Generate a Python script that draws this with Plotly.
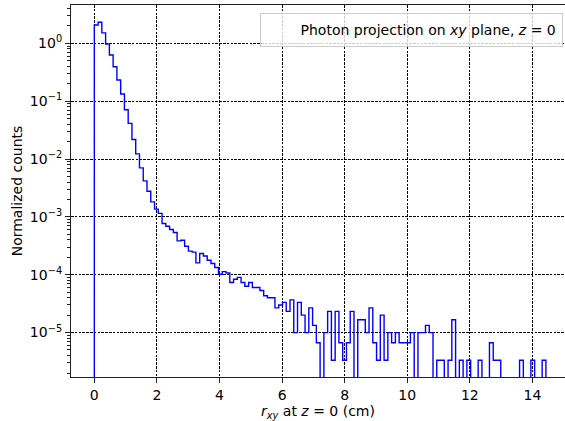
import numpy as np
import plotly.graph_objects as go

# ---- data (normalized counts per bin) ----
r_min = 0.0
r_max = 14.43
n_bins = 120

density = [
    2.07, 2.31, 1.52, 0.97, 0.63, 0.394, 0.232, 0.133, 0.071, 0.0413,
    0.0218, 0.0123, 0.00704, 0.0042, 0.00278, 0.00182, 0.00136, 0.00115, 0.00077, 0.00069,
    0.000605, 0.000537, 0.000385, 0.000395, 0.000311, 0.000256, 0.000246, 0.00016, 0.000233, 0.000211,
    0.000178, 0.000156, 0.000133, 0.000102, 1.13e-4, 1.07e-4, 7.33e-5, 8.33e-5, 9.0e-5, 7.33e-5,
    6.33e-5, 7.33e-5, 6.0e-5, 6.0e-5, 5.33e-5, 4.33e-5, 4.0e-5, 4.0e-5, 2.67e-5, 3.0e-5,
    3.33e-5, 2.33e-5, 3.67e-5, 1.0e-5, 3.33e-5, 2.0e-5, 1.0e-5, 2.67e-5, 1.33e-5, 6.67e-6,
    0, 1.0e-5, 2.33e-5, 3.33e-6, 2.33e-5, 6.67e-6, 3.33e-6, 6.67e-6, 2.33e-5, 0,
    1.67e-5, 1.67e-5, 1.0e-5, 2.67e-5, 6.67e-6, 3.33e-6, 2.0e-5, 3.33e-6, 1.0e-5, 6.67e-6,
    1.0e-5, 6.67e-6, 6.67e-6, 6.67e-6, 1.0e-5, 0, 1.0e-5, 1.0e-5, 1.33e-5, 1.0e-5,
    0, 3.33e-6, 3.33e-6, 0, 3.33e-6, 1.67e-5, 0, 3.33e-6, 0, 3.33e-6,
    0, 0, 3.33e-6, 0, 0, 6.67e-6, 3.33e-6, 3.33e-6, 0, 0,
    0, 0, 0, 3.33e-6, 0, 0, 3.33e-6, 0, 0, 3.33e-6,
]

x_tick_vals = [0, 2, 4, 6, 8, 10, 12, 14]
y_tick_vals = [1e-5, 1e-4, 1e-3, 1e-2, 1e-1, 1e0]
y_tick_text = ["10<sup>\u22125</sup>", "10<sup>\u22124</sup>", "10<sup>\u22123</sup>",
               "10<sup>\u22122</sup>", "10<sup>\u22121</sup>", "10<sup>0</sup>"]
legend_label = "Photon projection on <i>xy</i> plane, <i>z</i> = 0"
x_title = "<i>r</i><sub><i>xy</i></sub> at <i>z</i> = 0 (cm)"
y_title = "Normalized counts"

# ---- build step outline (like matplotlib histtype='step') ----
edges = np.linspace(r_min, r_max, n_bins + 1)
floor = 1e-12  # empty bins drop below the axis, as on a log scale
vals = [v if v > 0 else floor for v in density]
xs = [edges[0]] + list(edges[:-1]) + [edges[-1]]
ys = [floor] + vals + [floor]

FONT = "DejaVu Sans"
fig = go.Figure()
fig.add_trace(go.Scatter(
    x=xs, y=ys, mode="lines", line=dict(color="#0000ff", width=1.4, shape="hv"),
    showlegend=False, hoverinfo="skip",
))
fig.add_trace(go.Scatter(
    x=[None], y=[None], mode="lines", line=dict(color="rgba(0,0,0,0)", width=1),
    name=legend_label, showlegend=True,
))

minor_vals = [k * 10.0 ** e for e in range(-6, 1) for k in range(2, 10)]

grid_dash = "2.6px,1.2px"
fig.update_layout(
    width=565, height=421,
    margin=dict(l=71, r=0, t=5, b=44),
    paper_bgcolor="white", plot_bgcolor="white",
    font=dict(family=FONT, size=14, color="black"),
    showlegend=True,
    legend=dict(
        x=0.995, y=0.978, xanchor="right", yanchor="top",
        bgcolor="rgba(255,255,255,0.8)", bordercolor="#cccccc", borderwidth=1,
        font=dict(family=FONT, size=14, color="black"),
    ),
    xaxis=dict(
        range=[-0.745, 15.04], tickvals=x_tick_vals,
        ticks="outside", ticklen=5, tickwidth=1.1, tickcolor="#222",
        showline=True, linecolor="#222", linewidth=1.1, mirror=True,
        showgrid=True, gridcolor="black", gridwidth=0.7, griddash=grid_dash,
        zeroline=False,
        title=dict(text=x_title, font=dict(family=FONT, size=14), standoff=6),
    ),
    yaxis=dict(
        type="log", range=[-5.768, 0.663],
        tickvals=y_tick_vals, ticktext=y_tick_text,
        ticks="outside", ticklen=5, tickwidth=1.1, tickcolor="#222",
        showline=True, linecolor="#222", linewidth=1.1, mirror=False,
        showgrid=True, gridcolor="black", gridwidth=0.7, griddash=grid_dash,
        zeroline=False,
        minor=dict(tickvals=minor_vals, ticks="outside", ticklen=3, tickwidth=0.8,
                   tickcolor="#222", showgrid=False),
        title=dict(text=y_title, font=dict(family=FONT, size=14), standoff=3),
    ),
)

fig.write_html("out.html")
